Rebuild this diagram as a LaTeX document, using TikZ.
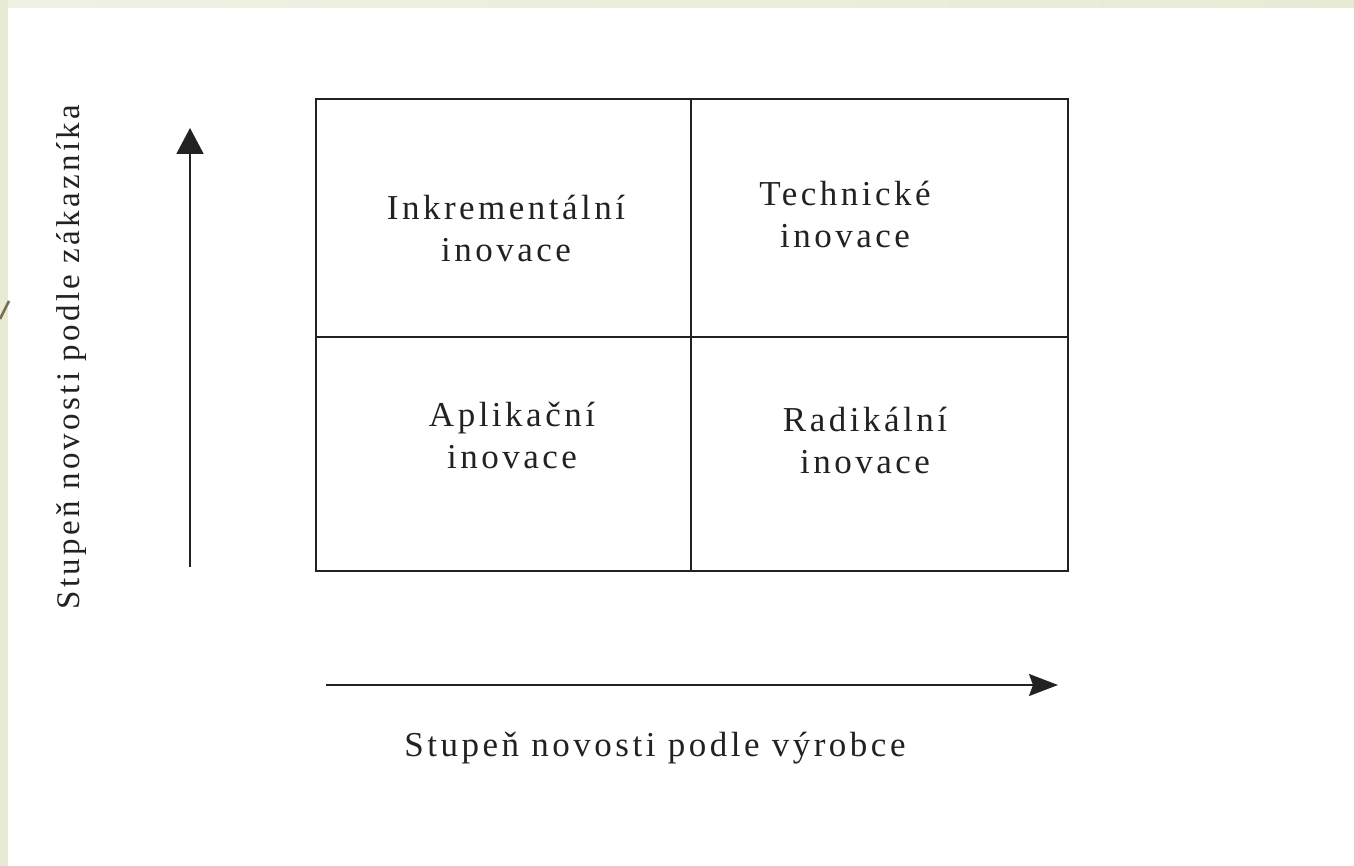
\documentclass[tikz,border=0pt]{standalone}
\usepackage{fontspec}
\setmainfont{Liberation Serif}[LetterSpace=10]
\usetikzlibrary{arrows.meta}
\definecolor{slidegreen}{HTML}{E7EBD4}
\definecolor{slidegreenlt}{HTML}{EFF2E3}
\definecolor{slideline}{HTML}{75704F}
\definecolor{ink}{HTML}{222222}
\tikzset{
  gridline/.style={draw=ink, line width=2pt},
  axis/.style={draw=ink, line width=2pt},
  label/.style={text=ink, font=\fontsize{35}{42}\selectfont, align=center, inner sep=0pt},
}
\begin{document}
\begin{tikzpicture}[x=1pt, y=-1pt]
  % page and slide decoration
  \useasboundingbox (0,0) rectangle (1354,866);
  \fill[white] (0,0) rectangle (1354,866);
  \shade[left color=slidegreenlt, right color=slidegreen] (0,0) rectangle (1354,8);
  \fill[slidegreen] (0,0) rectangle (8,866);
  \draw[color=slideline, line width=2.5pt] (0,319) -- (9,301);

  % 2x2 matrix
  \coordinate (tl) at (316,99);
  \coordinate (br) at (1068,571);
  \coordinate (mt) at (691,99);
  \coordinate (mb) at (691,571);
  \coordinate (ml) at (316,337);
  \coordinate (mr) at (1068,337);
  \draw[gridline] (tl) rectangle (br);
  \draw[gridline] (mt) -- (mb);
  \draw[gridline] (ml) -- (mr);

  % quadrant labels
  \node[label] (inc) at (506,229) {Inkrementální\\inovace};
  \node[label] (tech) at (845,215) {Technické\\inovace};
  \node[label] (apl) at (512,435) {Aplikační\\inovace};
  \node[label] (rad) at (865,441) {Radikální\\inovace};

  % axes
  \coordinate (ys) at (190,567);
  \coordinate (ye) at (190,128);
  \coordinate (xs) at (326,685);
  \coordinate (xe) at (1058,685);
  \draw[axis, -{Triangle[length=26pt, width=27pt]}] (ys) -- (ye);
  \draw[axis, -{Stealth[length=29pt, width=22pt, inset=4pt]}] (xs) -- (xe);

  % axis labels
  \node[label] (xlab) at (655,748) {Stupeň novosti podle výrobce};
  \node[label, font=\fontsize{33}{40}\selectfont, rotate=90] (ylab) at (72,357) {Stupeň novosti podle zákazníka};
\end{tikzpicture}
\end{document}
